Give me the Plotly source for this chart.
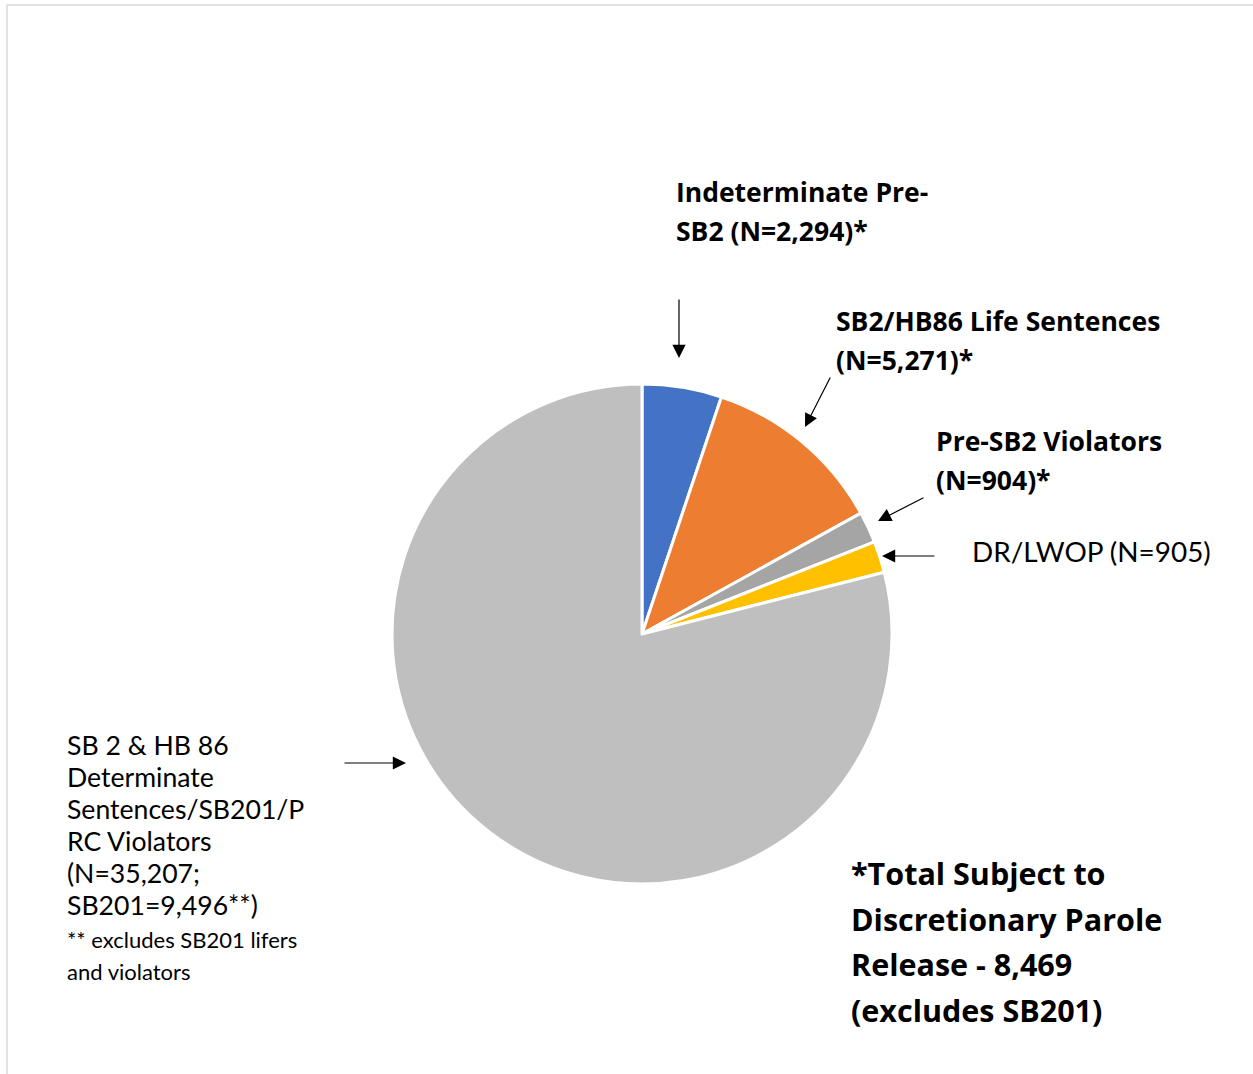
import plotly.graph_objects as go

# Population by sentence category
categories = [
    "Indeterminate Pre-SB2",
    "SB2/HB86 Life Sentences",
    "Pre-SB2 Violators",
    "DR/LWOP",
    "SB 2 & HB 86 Determinate Sentences/SB201/PRC Violators",
]
counts = [2294, 5271, 904, 905, 35207]
sb201_count = 9496
discretionary_total = 8469
colors = ["#4472C4", "#ED7D31", "#A5A5A5", "#FFC000", "#BFBFBF"]

W, H = 1253, 1074
BOLD_FONT = "Open Sans"
REG_FONT = "Lato"


def px(x):
    return x / W


def py(y):
    return 1 - y / H


def n(v):
    return f"{v:,}"


fig = go.Figure(
    go.Pie(
        labels=categories,
        values=counts,
        sort=False,
        direction="clockwise",
        rotation=0,
        marker=dict(colors=colors, line=dict(color="white", width=3)),
        textinfo="none",
        hoverinfo="label+value",
        showlegend=False,
        domain=dict(x=[px(392), px(892)], y=[py(884), py(384)]),
    )
)

annotations = []


def block(lines, x, y_first, spacing, size, bold=False):
    """Multi-line text block; line pitch comes from the base font size,
    glyph size from the inner span."""
    body = "<br>".join(
        f'<span style="font-size:{size}px">{t}</span>' for t in lines
    )
    if bold:
        body = f"<b>{body}</b>"
    y_mid = y_first + spacing * (len(lines) - 1) / 2
    annotations.append(
        dict(
            text=body, align="left",
            x=px(x - 2), y=py(y_mid), xref="paper", yref="paper",
            xanchor="left", yanchor="middle", showarrow=False,
            font=dict(family=BOLD_FONT if bold else REG_FONT,
                      size=spacing / 1.3, color="#000000"),
        )
    )


def arrow(x0, y0, x1, y1):
    annotations.append(
        dict(
            text="", x=px(x1), y=py(y1), xref="paper", yref="paper",
            ax=x0 - x1, ay=y0 - y1, axref="pixel", ayref="pixel",
            showarrow=True, arrowhead=2, arrowsize=2.2, arrowwidth=1.2,
            arrowcolor="#000000",
        )
    )


# Callout labels
BOLD = 26.5
block(["Indeterminate Pre-", f"SB2 (N={n(counts[0])})*"], 676, 192, 39, BOLD, True)
block(["SB2/HB86 Life Sentences", f"(N={n(counts[1])})*"], 836, 321, 39, BOLD, True)
block(["Pre-SB2 Violators", f"(N={n(counts[2])})*"], 936, 441, 39, BOLD, True)
block([f"DR/LWOP (N={n(counts[3])})"], 972, 551, 36, 27.9)

left_lines = [
    "SB 2 & HB 86",
    "Determinate",
    "Sentences/SB201/P",
    "RC Violators",
    f"(N={n(counts[4])};",
    f"SB201={n(sb201_count)}**)",
]
block(left_lines, 67, 745, 32, 26.6)
block(["** excludes SB201 lifers", "and violators"], 67, 939, 32, 22)

total_lines = [
    "*Total Subject to",
    "Discretionary Parole",
    f"Release - {n(discretionary_total)}",
    "(excludes SB201)",
]
block(total_lines, 851, 873, 45.5, 30.5, True)

# Arrows pointing at slices
arrow(679, 298, 679, 358)
arrow(831, 376, 805, 427)
arrow(925, 497, 878, 521)
arrow(936, 556, 882, 556)
arrow(343, 763, 406, 763)

# Outer frame
shapes = [
    dict(type="rect", xref="paper", yref="paper",
         x0=px(7), y0=-0.01, x1=1.01, y1=py(5),
         line=dict(color="#D9D9D9", width=1.5), fillcolor="rgba(0,0,0,0)")
]

fig.update_layout(
    width=W, height=H,
    margin=dict(l=0, r=0, t=0, b=0),
    paper_bgcolor="white", plot_bgcolor="white",
    annotations=annotations, shapes=shapes,
)

fig.write_html("out.html")
